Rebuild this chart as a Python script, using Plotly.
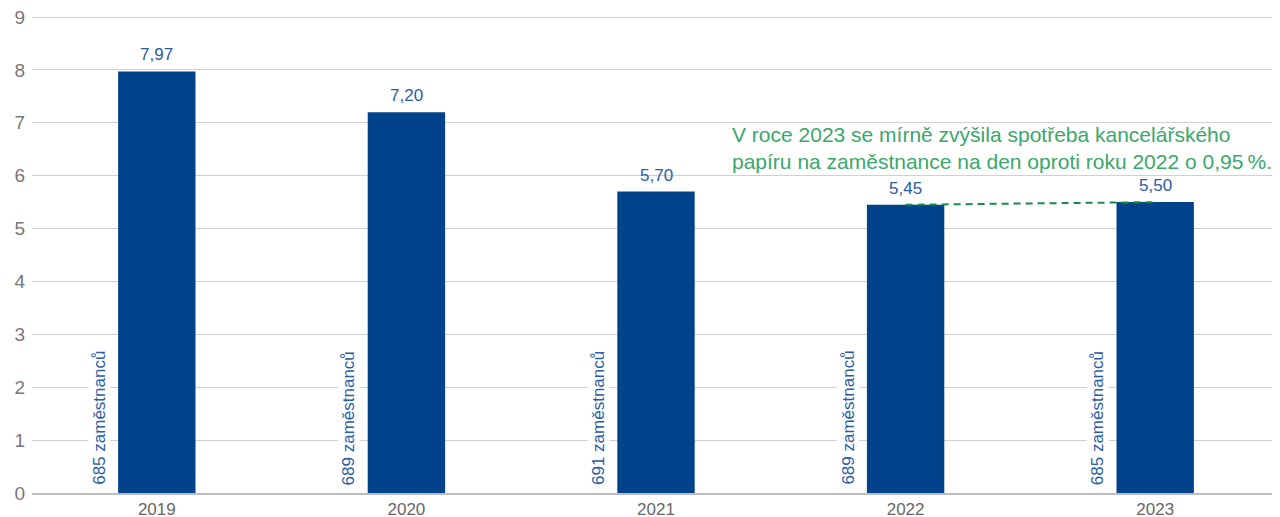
import plotly.graph_objects as go

years = ["2019", "2020", "2021", "2022", "2023"]
values = [7.97, 7.20, 5.70, 5.45, 5.50]
value_labels = ["7,97", "7,20", "5,70", "5,45", "5,50"]
employees = [685, 689, 691, 689, 685]
trend_years = ["2022", "2023"]
trend_values = [5.45, 5.50]
note = "V roce 2023 se mírně zvýšila spotřeba kancelářského<br>papíru na zaměstnance na den oproti roku 2022 o 0,95\u202f%."

BAR = "#00438a"
TXT_BLUE = "#2a5ca6"
GREEN_TXT = "#3aa76b"
GREEN_LINE = "#1b8a48"
FONT = "Liberation Sans, Arial, sans-serif"

fig = go.Figure()
fig.add_trace(go.Bar(x=years, y=values, marker=dict(color=BAR, line=dict(width=0)),
                     width=0.31, hoverinfo="skip", showlegend=False))
fig.add_trace(go.Scatter(x=trend_years, y=trend_values, mode="lines",
                         line=dict(color=GREEN_LINE, width=2, dash="7px,5px"),
                         hoverinfo="skip", showlegend=False))

annotations = []
for i, (v, lab, emp) in enumerate(zip(values, value_labels, employees)):
    annotations.append(dict(x=i, y=v, text=lab, showarrow=False, yanchor="bottom",
                            yshift=5, font=dict(family=FONT, size=17, color=TXT_BLUE)))
    annotations.append(dict(x=i, y=0, text=f"{emp} zaměstnanců", showarrow=False,
                            textangle=-90, yanchor="bottom", xanchor="center", xshift=-58,
                            yshift=6, bgcolor="white", borderpad=1,
                            font=dict(family=FONT, size=17, color=TXT_BLUE)))
annotations.append(dict(xref="paper", yref="y", x=0.5595, y=7.04, text=note, showarrow=False,
                        xanchor="left", yanchor="top", align="left",
                        font=dict(family=FONT, size=21, color=GREEN_TXT)))

# page body has an 8px default margin, so the figure is sized/offset to compensate
fig.update_layout(
    width=1272, height=509,
    margin=dict(l=24, r=0, t=6, b=24, autoexpand=False),
    plot_bgcolor="white", paper_bgcolor="white",
    annotations=annotations,
    xaxis=dict(type="category", range=[-0.5, 4.5], showgrid=False, showline=True,
               linecolor="#bdbdbd", linewidth=2, automargin=False,
               tickfont=dict(family=FONT, size=17, color="#666666"), ticks="",
               ticklabelstandoff=0),
    yaxis=dict(range=[0, 9.057], tickvals=list(range(10)), showgrid=True,
               gridcolor="#d0d0d0", gridwidth=1, ticklabeloverflow="allow",
               zeroline=False, showline=False, ticks="", automargin=False,
               tickfont=dict(family=FONT, size=19, color="#777777"), ticklabelstandoff=6),
)

fig.write_html("out.html")
